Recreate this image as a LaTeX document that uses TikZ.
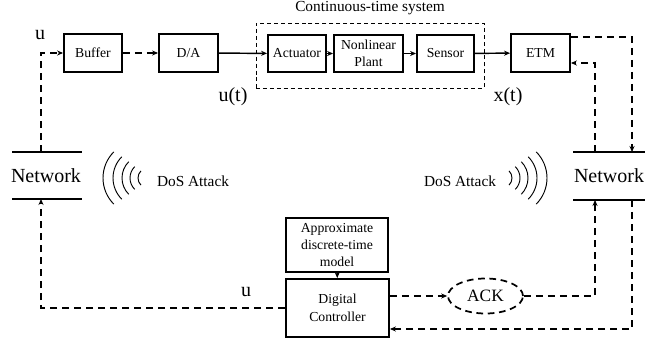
\documentclass[tikz,border=0pt]{standalone}
\usepackage{fontspec}
\setmainfont{Liberation Serif}
\usetikzlibrary{arrows.meta,shapes.geometric}
\begin{document}
\begin{tikzpicture}[x=0.75pt,y=-0.75pt,
  blk/.style={draw, line width=1.4pt, inner sep=0pt, align=center, font=\fontsize{10.3}{12.5}\selectfont},
  w/.style={minimum width=#1*0.75pt},
  h/.style={minimum height=#1*0.75pt},
  dsh/.style={line width=1.3pt, dash pattern=on 5.5pt off 3.5pt, -{Stealth[length=4.5pt,width=3.8pt]}},
  sol/.style={line width=1.1pt, -{Stealth[length=4.5pt,width=3.8pt]}},
  lbl/.style={inner sep=0pt, font=\fontsize{15}{15}\selectfont},
  small/.style={inner sep=0pt, font=\fontsize{11.5}{13}\selectfont},
  netline/.style={line width=1.1pt},
  wave/.style={line width=0.7pt}]
\useasboundingbox (0,0) rectangle (645,345);

% top chain
\node[blk,w=58,h=38] (buf) at (93,53) {Buffer};
\node[blk,w=59,h=38] (da) at (188.5,53) {D/A};
\node[blk,w=58,h=37] (act) at (297,53.5) {Actuator};
\node[blk,w=69,h=37] (pl) at (368.5,53.5) {Nonlinear\\Plant};
\node[blk,w=57,h=37] (sen) at (445.5,53.5) {Sensor};
\node[blk,w=59,h=38] (etm) at (540.5,53) {ETM};
\node[draw, line width=0.7pt, dash pattern=on 3pt off 2.2pt, inner sep=0pt, w=228, h=65] (sys) at (370,55.5) {};
\node[small] (title) at (370,8) {Continuous-time system};

% networks
\node[lbl] (netL) at (46,176) {Network};
\node[lbl] (netR) at (609,176) {Network};
\draw[netline] (12,152) -- (82,152);
\draw[netline] (12,199) -- (82,199);
\draw[netline] (573,152) -- (645,152);
\draw[netline] (573,200) -- (645,200);
\coordinate (nLt) at (41,152);
\coordinate (nLb) at (41,199);
\coordinate (nR1t) at (595,152);
\coordinate (nR1b) at (595,200);
\coordinate (nR2t) at (632,152);
\coordinate (nR2b) at (632,200);

% bottom blocks
\node[blk,w=102,h=54] (apx) at (337,245) {Approximate\\discrete-time\\model};
\node[blk,w=103,h=58,font=\fontsize{10.3}{13.5}\selectfont] (ctl) at (337.5,308) {Digital\\Controller};
\node[draw, ellipse, line width=1.3pt, dash pattern=on 5pt off 3.5pt, inner sep=0pt, w=75, h=35, font=\fontsize{13}{13}\selectfont] (ack) at (485.5,296) {ACK};

% DoS attack
\node[small] (dosL) at (193,181) {DoS Attack};
\node[small] (dosR) at (460,181) {DoS Attack};
\foreach \xl/\r in {103/37, 113/30, 122/23, 130/16, 138/10}{
  \draw[wave] (\xl,178) arc[start angle=180, end angle=135, radius=\r*0.75pt];
  \draw[wave] (\xl,178) arc[start angle=180, end angle=225, radius=\r*0.75pt];
}
\foreach \xr/\r in {547/37, 537/30, 528/23, 520/16, 512/10}{
  \draw[wave] (\xr,178) arc[start angle=0, end angle=45, radius=\r*0.75pt];
  \draw[wave] (\xr,178) arc[start angle=0, end angle=-45, radius=\r*0.75pt];
}

% connectors
\draw[dsh] (nLt) |- (buf.west);
\draw[dsh] (buf) -- (da);
\draw[sol] (da) -- (act);
\draw[sol] (act) -- (pl);
\draw[sol] (pl) -- (sen);
\draw[sol] (sen) -- (etm);
\draw[dsh] ([yshift=-3pt]etm.north east) -| (nR2t);
\draw[dsh] (nR1t) |- ([yshift=-7.5pt]etm.east);
\draw[dsh] (ack.east) -| (nR1b);
\draw[dsh] (nR2b) |- ([yshift=-15.75pt]ctl.east);
\draw[dsh] (ctl.east |- ack.west) -- (ack.west);
\draw[dsh] (ctl.west) -| (nLb);
\draw[sol] (apx) -- (ctl);

% labels
\node[lbl] (uTop) at (40,35) {u};
\node[lbl] (ut) at (233,97) {u(t)};
\node[lbl] (xt) at (508,97) {x(t)};
\node[lbl] (uBot) at (246,292) {u};
\end{tikzpicture}
\end{document}
